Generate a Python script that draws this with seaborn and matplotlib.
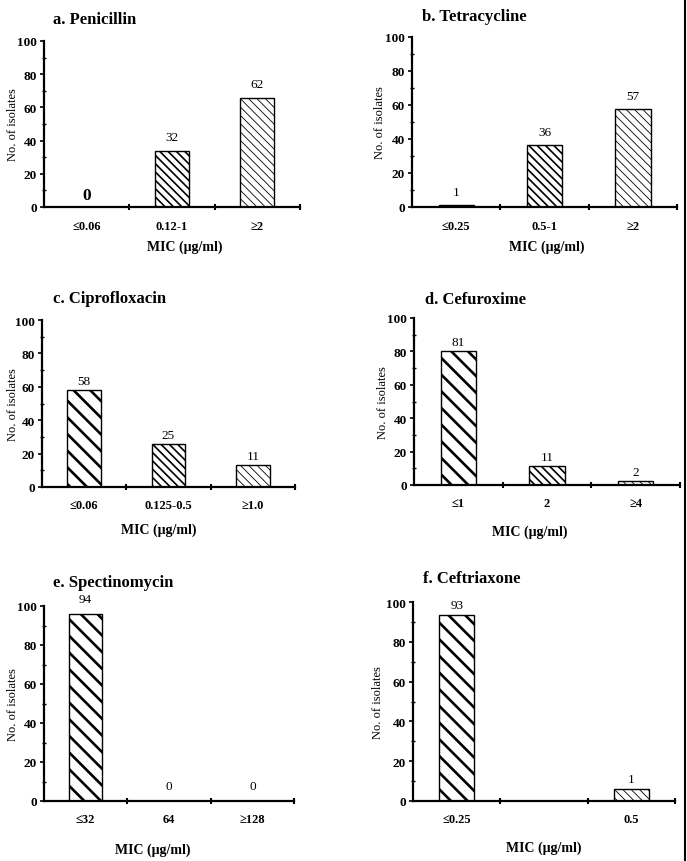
import matplotlib
matplotlib.use("Agg")
import matplotlib.pyplot as plt
import seaborn as sns
import pandas as pd
from matplotlib.lines import Line2D
from matplotlib.ticker import FixedLocator

sns.set_theme(style="white", rc={"text.color": "black", "axes.labelcolor": "black",
                                 "xtick.color": "black", "ytick.color": "black",
                                 "axes.edgecolor": "black"})
plt.rcParams["font.family"] = ["Liberation Serif", "DejaVu Serif"]

W, H = 687, 862

# Dados de cada painel (altura das barras, rótulo = nº de isolados)
titles = ["a. Penicillin", "b. Tetracycline", "c. Ciprofloxacin",
          "d. Cefuroxime", "e. Spectinomycin", "f. Ceftriaxone"]

pen_cats = ["≤0.06", "0.12-1", "≥2"]
pen_vals = [0, 33.5, 65.9]
pen_labels = ["0", "32", "62"]

tet_cats = ["≤0.25", "0.5-1", "≥2"]
tet_vals = [1.2, 36.5, 57.6]
tet_labels = ["1", "36", "57"]

cip_cats = ["≤0.06", "0.125-0.5", "≥1.0"]
cip_vals = [58.2, 25.7, 12.9]
cip_labels = ["58", "25", "11"]

cef_cats = ["≤1", "2", "≥4"]
cef_vals = [80.4, 11.4, 2.6]
cef_labels = ["81", "11", "2"]

spe_cats = ["≤32", "64", "≥128"]
spe_vals = [95.7, 0, 0]
spe_labels = ["94", "0", "0"]

cro_cats = ["≤0.25", "", "0.5"]
cro_vals = [93.5, 0, 5.9]
cro_labels = ["93", "", "1"]

data = [
    (pen_cats, pen_vals, pen_labels),
    (tet_cats, tet_vals, tet_labels),
    (cip_cats, cip_vals, cip_labels),
    (cef_cats, cef_vals, cef_labels),
    (spe_cats, spe_vals, spe_labels),
    (cro_cats, cro_vals, cro_labels),
]

# Layout em pixels: (esq, dir, base, topo), posição do título, x do MIC, x do ylabel, deslocamento do rótulo
layout = [
    dict(box=(44, 300, 208, 42), title=(53, 20), xlab=(185, 247), ylab=13, off=14),
    dict(box=(412, 677, 208, 38), title=(422, 17), xlab=(547, 247), ylab=380, off=13),
    dict(box=(42, 295, 488, 321), title=(53, 299), xlab=(159, 530), ylab=13, off=9),
    dict(box=(414, 680, 486, 319), title=(425, 300), xlab=(530, 532), ylab=383, off=9),
    dict(box=(44, 294, 802, 607), title=(53, 583), xlab=(153, 850), ylab=13, off=15),
    dict(box=(413, 675, 802, 603), title=(423, 579), xlab=(544, 848), ylab=378, off=10),
]

hatches = ["\\\\", "\\\\\\\\", "\\\\\\\\"]
hatch_lw = [1.9, 1.2, 0.6]

fig = plt.figure(figsize=(W / 100, H / 100), dpi=100)

for (cats, vals, labels), lay, title in zip(data, layout, titles):
    l, r, b, t = lay["box"]
    ax = fig.add_axes([l / W, 1 - b / H, (r - l) / W, (b - t) / H])
    df = pd.DataFrame({"cat": cats, "val": vals})
    sns.barplot(data=df, x="cat", y="val", ax=ax, color="white",
                edgecolor="black", linewidth=1.0, width=0.4, saturation=1)
    for i, patch in enumerate(ax.patches):
        patch.set_facecolor("white")
        patch.set_hatch(hatches[i])
        if hasattr(patch, "set_hatch_linewidth"):
            patch.set_hatch_linewidth(hatch_lw[i])

    ax.set_ylim(0, 100)
    ax.set_xlim(-0.5, len(cats) - 0.5)
    ax.set_yticks([0, 20, 40, 60, 80, 100])
    ax.yaxis.set_minor_locator(FixedLocator([10, 30, 50, 70, 90]))
    ax.xaxis.set_minor_locator(FixedLocator([0.5 + k for k in range(len(cats))]))
    ax.tick_params(axis="y", which="major", direction="out", length=3, width=1.2,
                   labelsize=9.5, pad=2, left=True)
    ax.tick_params(axis="y", which="minor", direction="inout", length=3, width=1.0, left=True)
    ax.tick_params(axis="x", which="major", length=0, labelsize=9, pad=9)
    ax.tick_params(axis="x", which="minor", direction="inout", length=5, width=1.5, bottom=True)
    for lab in ax.get_xticklabels() + ax.get_yticklabels():
        lab.set_fontweight("bold")

    sns.despine(ax=ax)
    ax.spines["left"].set_linewidth(1.6)
    ax.spines["bottom"].set_linewidth(1.6)

    # rótulos de valor
    for i, (v, lab) in enumerate(zip(vals, labels)):
        if lab == "":
            continue
        if title.startswith("a.") and lab == "0":
            ax.annotate(lab, (i, v), xytext=(0, 4), textcoords="offset pixels",
                        ha="center", va="bottom", fontsize=12.5, fontweight="bold")
        else:
            ax.annotate(lab, (i, v), xytext=(0, lay["off"]), textcoords="offset pixels",
                        ha="center", va="center", fontsize=9.5)

    ax.set_xlabel("")
    ax.set_ylabel("")
    fig.text(lay["title"][0] / W, 1 - lay["title"][1] / H, title, ha="left", va="center",
             fontsize=12, fontweight="bold")
    fig.text(lay["xlab"][0] / W, 1 - lay["xlab"][1] / H, "MIC (μg/ml)", ha="center",
             va="center", fontsize=10, fontweight="bold")
    fig.text(lay["ylab"] / W, 1 - ((b + t) / 2) / H, "No. of isolates", ha="center",
             va="center", rotation=90, fontsize=9)

# borda vertical à direita
fig.add_artist(Line2D([684.5 / W, 684.5 / W], [0, 1], color="black", linewidth=1.5,
                      transform=fig.transFigure))

fig.savefig("out.png", dpi=100)
